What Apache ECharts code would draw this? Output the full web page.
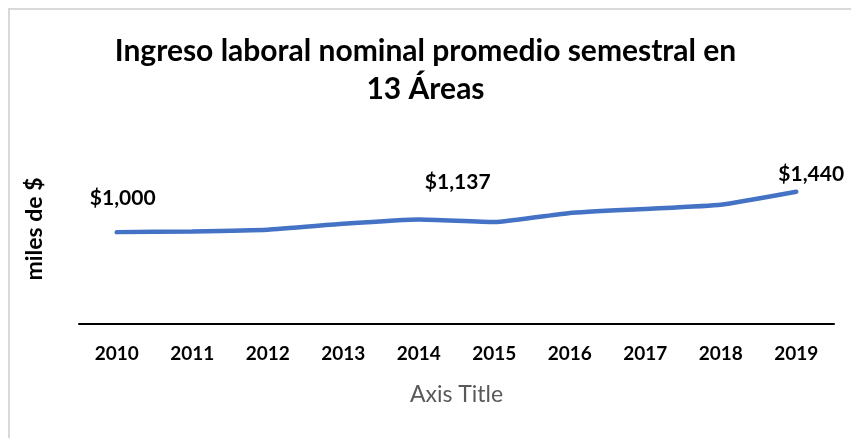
<!DOCTYPE html>
<html>
<head>
<meta charset="utf-8">
<script src="https://cdn.jsdelivr.net/npm/echarts@6/dist/echarts.min.js"></script>
<style>
  html, body { margin: 0; padding: 0; background: #fff; }
  #frame { position: absolute; left: 8px; top: 8px; width: 843px; height: 430px;
           border-left: 2px solid #d9d9d9; border-top: 2px solid #d9d9d9; box-sizing: border-box; }
  #main { position: absolute; left: 0; top: 0; width: 851px; height: 438px; }
</style>
</head>
<body>
<div id="frame"></div>
<div id="main"></div>
<script>
  // datos
  const years = ['2010', '2011', '2012', '2013', '2014', '2015', '2016', '2017', '2018', '2019']
  const ingreso = [1000, 1008, 1026, 1090, 1137, 1110, 1209, 1253, 1299, 1440]
  // solo algunos puntos llevan etiqueta
  const labelled = { 0: [6, -18], 4: [39, -21], 9: [15, -1] }

  const font = 'Lato, "Open Sans", sans-serif'

  const seriesData = ingreso.map((v, i) => {
    const item = { value: v }
    if (labelled[i]) {
      item.label = { show: true, offset: labelled[i] }
    }
    return item
  })

  const chart = echarts.init(document.getElementById('main'))
  chart.setOption({
    animation: false,
    title: {
      text: 'Ingreso laboral nominal promedio semestral en\n13 Áreas',
      left: 'center',
      top: 27,
      textStyle: {
        fontFamily: font,
        fontSize: 30,
        fontWeight: 'bold',
        color: '#000',
        lineHeight: 38
      }
    },
    // titulo del eje y, un poco mas arriba que el centro del grafico
    graphic: [
      {
        type: 'text',
        x: 35,
        y: 229,
        rotation: Math.PI / 2,
        style: {
          text: 'miles de $',
          fontFamily: font,
          fontSize: 23,
          fontWeight: 'bold',
          fill: '#000',
          align: 'center',
          verticalAlign: 'middle'
        }
      }
    ],
    grid: {
      left: 79,
      right: 17,
      top: 177,
      bottom: 114
    },
    xAxis: {
      type: 'category',
      data: years,
      name: 'Axis Title',
      nameLocation: 'middle',
      nameGap: 59,
      nameTextStyle: { fontFamily: font, fontSize: 23, color: '#595959' },
      axisLine: { lineStyle: { color: '#000', width: 2 } },
      axisTick: { show: false },
      axisLabel: {
        margin: 20,
        fontFamily: font,
        fontSize: 19,
        fontWeight: 'bold',
        color: '#000'
      }
    },
    yAxis: {
      type: 'value',
      min: 0,
      max: 1600,
      axisLine: { show: false },
      axisTick: { show: false },
      axisLabel: { show: false },
      splitLine: { show: false }
    },
    series: [
      {
        name: 'Ingreso',
        type: 'line',
        data: seriesData,
        smooth: 0.15,
        symbol: 'circle',
        symbolSize: 1,
        showSymbol: true,
        itemStyle: { color: 'rgba(0,0,0,0)' },
        lineStyle: { color: '#4472C4', width: 4.5, cap: 'round' },
        label: {
          show: false,
          position: 'top',
          fontFamily: font,
          fontSize: 21,
          fontWeight: 'bold',
          color: '#000',
          formatter: p => '$' + p.value.toLocaleString('en-US')
        }
      }
    ]
  })
</script>
</body>
</html>
